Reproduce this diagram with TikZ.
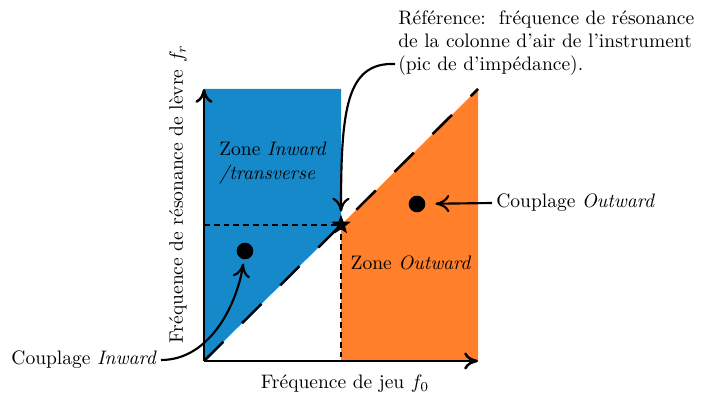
\documentclass[tikz,border=0pt]{standalone}
\usepackage{tikz}
\usetikzlibrary{arrows.meta, shapes.geometric}
\definecolor{zoneblue}{RGB}{21,137,202}
\definecolor{zoneorange}{RGB}{255,127,42}
\tikzset{
  axis/.style={-{To[length=2.5mm, width=3.1mm]}, line width=1.3pt},
  note/.style={-{To[length=2.5mm, width=3.1mm]}, line width=1.1pt},
  diag/.style={line width=1.3pt, dash pattern=on 14pt off 13.5pt},
  guide/.style={line width=1.3pt, dash pattern=on 3pt off 2pt},
  pt/.style={circle, fill=black, inner sep=0pt, minimum size=0.3cm},
  lbl/.style={font=\normalsize, inner sep=2pt},
}

\begin{document}
\begin{tikzpicture}[x=0.018cm, y=-0.018cm]
  \useasboundingbox (0,0) rectangle (702,396);
  % axes corners
  \coordinate (O) at (204,361);
  \coordinate (xmax) at (478,361);
  \coordinate (ymax) at (204,89);
  \coordinate (dmax) at (478,89);
  \coordinate (fr) at (204,225);
  \coordinate (f0) at (341,361);
  % zones
  \fill[zoneblue] (O) -- (341,225) -- (341,89) -- (ymax) -- cycle;
  \fill[zoneorange] (f0) -- (xmax) -- (dmax) -- (341,225) -- cycle;
  \draw[diag] (O) -- (dmax);
  \node[star, star points=5, star point ratio=2.4, fill=black, inner sep=0pt,
        minimum size=0.37cm] (S) at (341,225) {};
  \draw[guide] (fr) -- (S.center) -- (f0);
  \draw[axis] (O) -- (xmax);
  \draw[axis] (O) -- (ymax);
  % axis labels
  \node[lbl] (xl) at (345,384) {Fréquence de jeu $f_0$};
  \node[lbl, rotate=90] (yl) at (178,194) {Fréquence de résonance de lèvre $f_r$};
  % zone labels
  \node[lbl, anchor=west, align=left] (zin) at (215,163) {Zone \textit{Inward}\\\textit{/transverse}};
  \node[lbl] (zout) at (411,263) {Zone \textit{Outward}};
  % couplings
  \node[pt] (din) at (245,251) {};
  \node[pt] (dout) at (417,204) {};
  \node[lbl, anchor=east] (cin) at (161,360) {Couplage \textit{Inward}};
  \node[lbl, anchor=west] (cout) at (492,203) {Couplage \textit{Outward}};
  \draw[note, shorten >=2pt] (cin.east) .. controls (212,360) and (238,300) .. (din);
  \draw[note, shorten >=5pt] (cout.west) -- (dout);
  % reference
  \node[lbl, anchor=west, align=left] (ref) at (394,43)
    {Référence:\ \ fréquence de résonance\\de la colonne d'air de l'instrument\\(pic de d'impédance).};
  \coordinate (refa) at (395,64);
  \draw[note, shorten >=1pt] (refa) .. controls (346,62) and (341,110) .. (S);
\end{tikzpicture}
\end{document}
